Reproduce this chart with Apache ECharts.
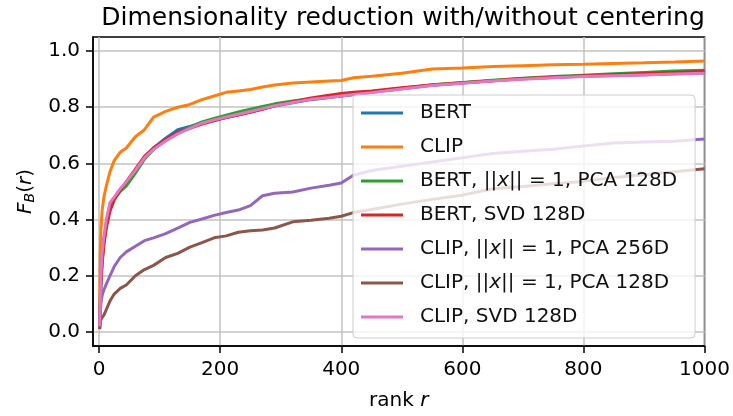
<!DOCTYPE html>
<html>
<head>
<meta charset="utf-8">
<title>Dimensionality reduction with/without centering</title>
<script src="https://cdn.jsdelivr.net/npm/echarts@6/dist/echarts.min.js"></script>
<style>
  html, body { margin: 0; padding: 0; background: #fff; }
  #chart { width: 733px; height: 416px; }
</style>
</head>
<body>
<div id="chart"></div>
<script>
// rank r (shared x values for every curve)
const ranks = [1, 2, 3, 5, 8, 12, 18, 25, 35, 45, 60, 75, 90, 110, 130, 150, 170, 190, 210, 230,
  250, 270, 290, 320, 350, 380, 400, 420, 450, 500, 550, 600, 650, 700, 750, 800, 850, 900, 950, 1000]

// F_B(r)
const bert = [0.02, 0.10, 0.17, 0.25, 0.32, 0.38, 0.44, 0.475, 0.505, 0.53, 0.575, 0.62, 0.655, 0.69, 0.72, 0.732, 0.745, 0.755, 0.763, 0.773,
  0.783, 0.794, 0.804, 0.816, 0.827, 0.835, 0.84, 0.845, 0.853, 0.866, 0.878, 0.886, 0.894, 0.901, 0.906, 0.91, 0.913, 0.916, 0.919, 0.922]
const clip = [0.08, 0.28, 0.36, 0.43, 0.48, 0.52, 0.57, 0.61, 0.64, 0.655, 0.695, 0.72, 0.765, 0.785, 0.80, 0.81, 0.827, 0.84, 0.853, 0.858,
  0.863, 0.872, 0.879, 0.886, 0.89, 0.893, 0.895, 0.905, 0.91, 0.921, 0.936, 0.94, 0.945, 0.948, 0.951, 0.953, 0.956, 0.958, 0.961, 0.965]
const bertPca128 = [0.02, 0.11, 0.18, 0.26, 0.33, 0.39, 0.45, 0.475, 0.50, 0.52, 0.565, 0.615, 0.65, 0.682, 0.708, 0.728, 0.748, 0.76, 0.772, 0.783,
  0.793, 0.803, 0.812, 0.822, 0.83, 0.836, 0.84, 0.845, 0.855, 0.868, 0.88, 0.888, 0.896, 0.903, 0.909, 0.914, 0.919, 0.924, 0.929, 0.932]
const bertSvd128 = [0.02, 0.10, 0.16, 0.24, 0.31, 0.37, 0.43, 0.47, 0.505, 0.535, 0.58, 0.625, 0.655, 0.685, 0.71, 0.725, 0.74, 0.752, 0.763, 0.772,
  0.782, 0.793, 0.805, 0.82, 0.833, 0.843, 0.849, 0.853, 0.858, 0.869, 0.879, 0.887, 0.894, 0.902, 0.907, 0.912, 0.916, 0.92, 0.924, 0.927]
const clipPca256 = [0.01, 0.07, 0.10, 0.13, 0.15, 0.17, 0.20, 0.233, 0.265, 0.285, 0.305, 0.325, 0.335, 0.35, 0.37, 0.39, 0.402, 0.415, 0.425, 0.434,
  0.45, 0.485, 0.494, 0.498, 0.512, 0.522, 0.53, 0.558, 0.575, 0.59, 0.605, 0.62, 0.635, 0.643, 0.65, 0.662, 0.673, 0.676, 0.679, 0.687]
const clipPca128 = [0.01, 0.03, 0.045, 0.05, 0.06, 0.08, 0.11, 0.135, 0.155, 0.167, 0.20, 0.222, 0.237, 0.265, 0.28, 0.302, 0.318, 0.335, 0.342, 0.355,
  0.36, 0.363, 0.37, 0.392, 0.398, 0.405, 0.412, 0.425, 0.436, 0.455, 0.472, 0.487, 0.51, 0.518, 0.528, 0.536, 0.55, 0.56, 0.57, 0.581]
const clipSvd128 = [0.02, 0.12, 0.20, 0.28, 0.34, 0.40, 0.46, 0.48, 0.51, 0.535, 0.575, 0.62, 0.65, 0.68, 0.705, 0.725, 0.743, 0.755, 0.765, 0.775,
  0.785, 0.795, 0.805, 0.817, 0.828, 0.835, 0.84, 0.845, 0.852, 0.865, 0.877, 0.885, 0.893, 0.90, 0.905, 0.909, 0.912, 0.915, 0.918, 0.921]

const xTicks = [0, 200, 400, 600, 800, 1000]
const yTicks = [0, 0.2, 0.4, 0.6, 0.8, 1.0]

const names = ['BERT', 'CLIP', 'BERT, ||x|| = 1, PCA 128D', 'BERT, SVD 128D',
  'CLIP, ||x|| = 1, PCA 256D', 'CLIP, ||x|| = 1, PCA 128D', 'CLIP, SVD 128D']
const values = [bert, clip, bertPca128, bertSvd128, clipPca256, clipPca128, clipSvd128]
const colors = ['#1f77b4', '#ff7f0e', '#2ca02c', '#d62728', '#9467bd', '#8c564b', '#e377c2']

const font = 'DejaVu Sans'
const gridColor = '#c2c2c2'

const series = names.map((name, i) => ({
  name: name,
  type: 'line',
  data: ranks.map((r, j) => [r, values[i][j]]),
  showSymbol: false,
  symbol: 'none',
  lineStyle: { width: 3, color: colors[i] },
  itemStyle: { color: colors[i] }
}))

const chart = echarts.init(document.getElementById('chart'))
const option = {
  animation: false,
  title: {
    text: 'Dimensionality reduction with/without centering',
    left: 398,
    textAlign: 'center',
    top: 1,
    textStyle: { fontFamily: font, fontSize: 25, fontWeight: 'normal', color: '#000' }
  },
  grid: {
    left: 93,
    right: 26,
    top: 37,
    bottom: 66,
    show: true,
    borderColor: '#000',
    borderWidth: 1.5
  },
  legend: {
    orient: 'vertical',
    left: 353,
    top: 95,
    icon: 'rect',
    itemWidth: 42,
    itemHeight: 3,
    itemGap: 10,
    padding: [6, 18, 9, 8],
    backgroundColor: 'rgba(255,255,255,0.8)',
    borderColor: '#cccccc',
    borderWidth: 1,
    borderRadius: 4,
    data: names,
    formatter: name => name.replace('x', '{i|x}'),
    textStyle: {
      fontFamily: font,
      fontSize: 20,
      lineHeight: 24,
      color: '#111',
      padding: [0, 0, 0, 12],
      rich: {
        i: { fontFamily: font, fontSize: 20, fontStyle: 'italic', color: '#111' }
      }
    }
  },
  xAxis: {
    type: 'value',
    min: -10,
    max: 1000,
    name: '{n|rank }{i|r}',
    nameLocation: 'middle',
    nameGap: 45,
    nameTextStyle: {
      rich: {
        n: { fontFamily: font, fontSize: 20, color: '#000' },
        i: { fontFamily: font, fontSize: 20, fontStyle: 'italic', color: '#000' }
      }
    },
    axisLine: { show: true, onZero: false, lineStyle: { color: '#000', width: 1.5 } },
    axisTick: { show: true, length: 7, customValues: xTicks, lineStyle: { color: '#000', width: 1.5 } },
    axisLabel: {
      customValues: xTicks,
      formatter: v => String(v),
      fontFamily: font,
      fontSize: 20,
      color: '#000',
      margin: 14
    },
    splitLine: { show: true, lineStyle: { color: gridColor, width: 1.5 } }
  },
  yAxis: {
    type: 'value',
    min: -0.05,
    max: 1.05,
    name: '{i|F}{s|B}{n|(}{i|r}{n|)}',
    nameLocation: 'middle',
    nameRotate: 90,
    nameGap: 55,
    nameTextStyle: {
      rich: {
        n: { fontFamily: font, fontSize: 20, color: '#000' },
        i: { fontFamily: font, fontSize: 20, fontStyle: 'italic', color: '#000' },
        s: { fontFamily: font, fontSize: 14, fontStyle: 'italic', color: '#000', padding: [9, 0, 0, 0] }
      }
    },
    axisLine: { show: true, onZero: false, lineStyle: { color: '#000', width: 1.5 } },
    axisTick: { show: true, length: 7, customValues: yTicks, lineStyle: { color: '#000', width: 1.5 } },
    axisLabel: {
      customValues: yTicks,
      formatter: v => v.toFixed(1),
      fontFamily: font,
      fontSize: 20,
      color: '#000',
      margin: 13
    },
    splitLine: { show: true, lineStyle: { color: gridColor, width: 1.5 } }
  },
  series: series
}
chart.setOption(option)
</script>
</body>
</html>
